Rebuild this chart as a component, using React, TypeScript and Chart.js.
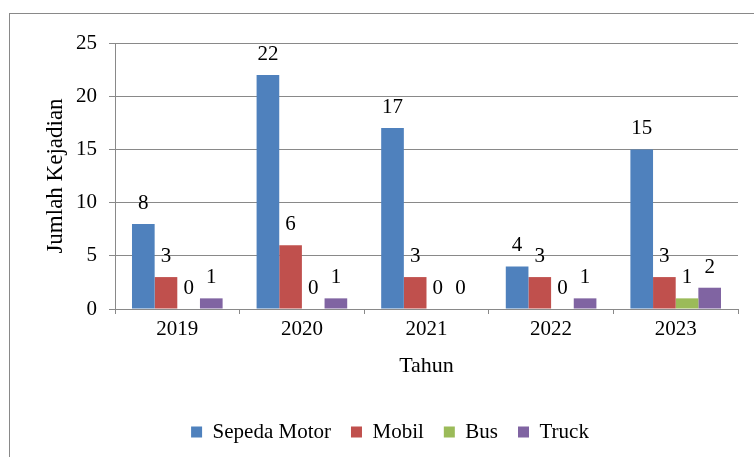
import React, { useEffect, useRef } from "react";
import { Chart, registerables } from "chart.js";

Chart.register(...registerables);

const categories = ["2019", "2020", "2021", "2022", "2023"];
const seriesNames = ["Sepeda Motor", "Mobil", "Bus", "Truck"];
const sepedaMotor = [8, 22, 17, 4, 15];
const mobil = [3, 6, 3, 3, 3];
const bus = [0, 0, 0, 0, 1];
const truck = [1, 1, 0, 1, 2];
const colors = ["#4F81BD", "#C0504D", "#9BBB59", "#8064A2"];
const yTicks = [0, 5, 10, 15, 20, 25];

const FONT = '"Liberation Serif", "Times New Roman", serif';
const FS = 21;

const labelPlugin = {
  id: "barLabels",
  afterDatasetsDraw(chart: any) {
    const ctx = chart.ctx;
    ctx.save();
    ctx.font = `${FS}px ${FONT}`;
    ctx.fillStyle = "#000";
    ctx.textAlign = "center";
    ctx.textBaseline = "alphabetic";
    chart.data.datasets.forEach((ds: any, i: number) => {
      const meta = chart.getDatasetMeta(i);
      meta.data.forEach((bar: any, j: number) => {
        ctx.fillText(String(ds.data[j]), bar.x, bar.y - 15);
      });
    });
    ctx.restore();
  },
};

const borderPlugin = {
  id: "outerBorder",
  beforeDraw(chart: any) {
    const ctx = chart.ctx;
    ctx.save();
    ctx.fillStyle = "#fff";
    ctx.fillRect(0, 0, chart.width, chart.height);
    ctx.strokeStyle = "#898989";
    ctx.lineWidth = 1;
    ctx.strokeRect(9.5, 13.5, 800, 500);
    ctx.restore();
  },
};

export default function App() {
  const ref = useRef<HTMLCanvasElement>(null);
  useEffect(() => {
    if (!ref.current) return;
    const values = [sepedaMotor, mobil, bus, truck];
    const chart = new Chart(ref.current, {
      type: "bar",
      data: {
        labels: categories,
        datasets: seriesNames.map((name, i) => ({
          label: name,
          data: values[i],
          backgroundColor: colors[i],
          borderWidth: 0,
          categoryPercentage: 4 / 5.5,
          barPercentage: 1,
        })),
      },
      options: {
        responsive: false,
        animation: false,
        layout: { padding: { top: 43, right: 16, bottom: 4.5, left: 42 } },
        plugins: {
          legend: {
            position: "bottom",
            labels: {
              boxWidth: 11,
              boxHeight: 11,
              padding: 20,
              color: "#000",
              font: { family: FONT, size: FS },
            },
          },
          tooltip: { enabled: false },
        },
        scales: {
          x: {
            afterFit: (s: any) => {
              s.height = 92.5;
            },
            grid: {
              drawOnChartArea: false,
              drawTicks: true,
              tickLength: 5,
              color: "#898989",
            },
            border: { color: "#898989" },
            ticks: {
              color: "#000",
              padding: 3,
              font: { family: FONT, size: FS },
            },
            title: {
              display: true,
              text: "Tahun",
              color: "#000",
              font: { family: FONT, size: 22 },
              padding: { top: 4, bottom: 22 },
            },
          },
          y: {
            min: 0,
            max: 25,
            afterFit: (s: any) => {
              s.width = 73;
            },
            afterBuildTicks: (s: any) => {
              s.ticks = yTicks.map((v) => ({ value: v }));
            },
            grid: {
              color: "#898989",
              tickLength: 6,
            },
            border: { color: "#898989" },
            ticks: {
              color: "#000",
              padding: 12,
              font: { family: FONT, size: FS },
            },
            title: {
              display: true,
              text: "Jumlah Kejadian",
              color: "#000",
              font: { family: FONT, size: 23 },
              padding: { top: 0, bottom: 4 },
            },
          },
        },
      },
      plugins: [borderPlugin, labelPlugin],
    });
    return () => chart.destroy();
  }, []);
  return (
    <canvas
      ref={ref}
      width={754}
      height={457}
      style={{ position: "fixed", left: 0, top: 0, display: "block" }}
    />
  );
}
